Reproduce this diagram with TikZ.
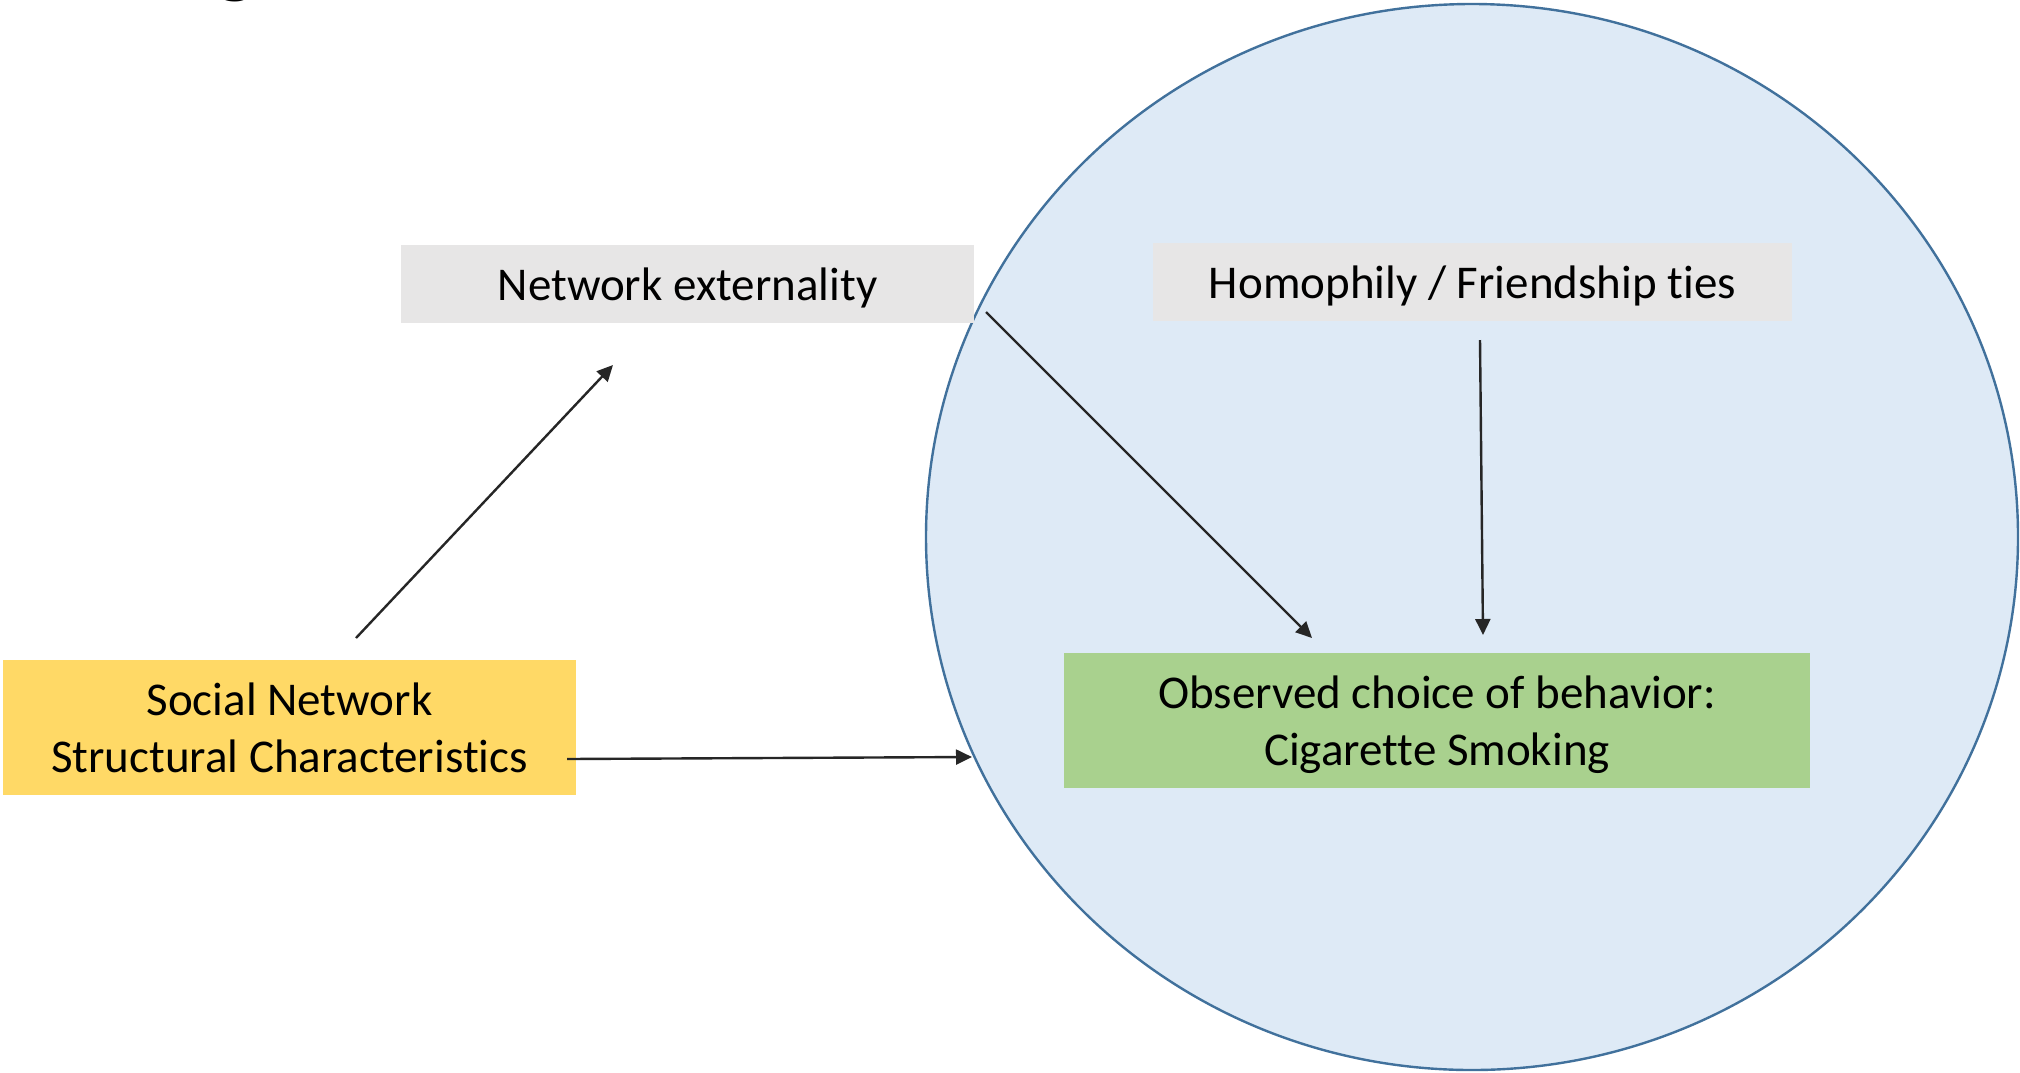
\documentclass[tikz,border=0pt]{standalone}
\usepackage{fontspec}
\setmainfont{Carlito}[Ligatures={NoCommon,NoContextual}]
\usetikzlibrary{arrows.meta}

\definecolor{boxgray}{HTML}{E7E6E6}
\definecolor{boxyellow}{HTML}{FFD966}
\definecolor{boxgreen}{HTML}{A9D18E}
\definecolor{zonefill}{HTML}{DEEAF6}
\definecolor{zoneline}{HTML}{41719C}
\definecolor{arrowink}{HTML}{262626}

% centred lines whose ink sits a little below the box centre
\newcommand\droptext[2]{\raisebox{-#1}[\height][\depth]{\begin{tabular}{@{}c@{}}#2\end{tabular}}}

\tikzset{
  labelbox/.style={rectangle, inner sep=0pt, align=center,
    font=\fontsize{47}{57}\selectfont, text=black},
  graybox/.style={labelbox, fill=boxgray},
  yellowbox/.style={labelbox, fill=boxyellow},
  greenbox/.style={labelbox, fill=boxgreen},
  link/.style={draw=arrowink, line width=2.4pt,
    -{Triangle[length=16pt, width=15pt]}},
}

\begin{document}
\begin{tikzpicture}[x=1pt, y=-1pt]
  \useasboundingbox (0,0) rectangle (2020,1072);
  \fill[white] (0,0) rectangle (2020,1072);

  % heading above the frame, only its descender falls inside
  \node[anchor=base, inner sep=0pt, font=\fontsize{90}{90}\selectfont] (heading) at (236,-14) {g};

  % shaded zone of the observed behaviour
  \draw[fill=zonefill, draw=zoneline, line width=2.4pt]
    (1472,537) ellipse [x radius=546, y radius=533];

  % factor boxes
  \node[graybox, minimum width=573, minimum height=78] (ext) at (687.5,284)
    {\droptext{5pt}{Network externality}};
  \node[graybox, minimum width=639, minimum height=78] (hom) at (1472.5,282)
    {\droptext{5pt}{Homophily / Friendship ties}};
  \node[yellowbox, minimum width=573, minimum height=135] (soc) at (289.5,727.5)
    {Social Network\\Structural Characteristics};
  \node[greenbox, minimum width=746, minimum height=135] (obs) at (1437,720.5)
    {\droptext{5pt}{Observed choice of behavior:\\Cigarette Smoking}};

  % connector ends
  \coordinate (socUp)   at (356,638);
  \coordinate (extIn)   at (613,365);
  \coordinate (extOut)  at (986,312);
  \coordinate (obsLeft) at (1312,638);
  \coordinate (homOut)  at (1480,340);
  \coordinate (obsTop)  at (1483,635);
  \coordinate (socOut)  at (567,759);
  \coordinate (zoneIn)  at (972,757);

  % influence arrows
  \draw[link] (socUp) -- (extIn);
  \draw[link] (extOut) -- (obsLeft);
  \draw[link] (homOut) -- (obsTop);
  \draw[link] (socOut) -- (zoneIn);
\end{tikzpicture}
\end{document}
